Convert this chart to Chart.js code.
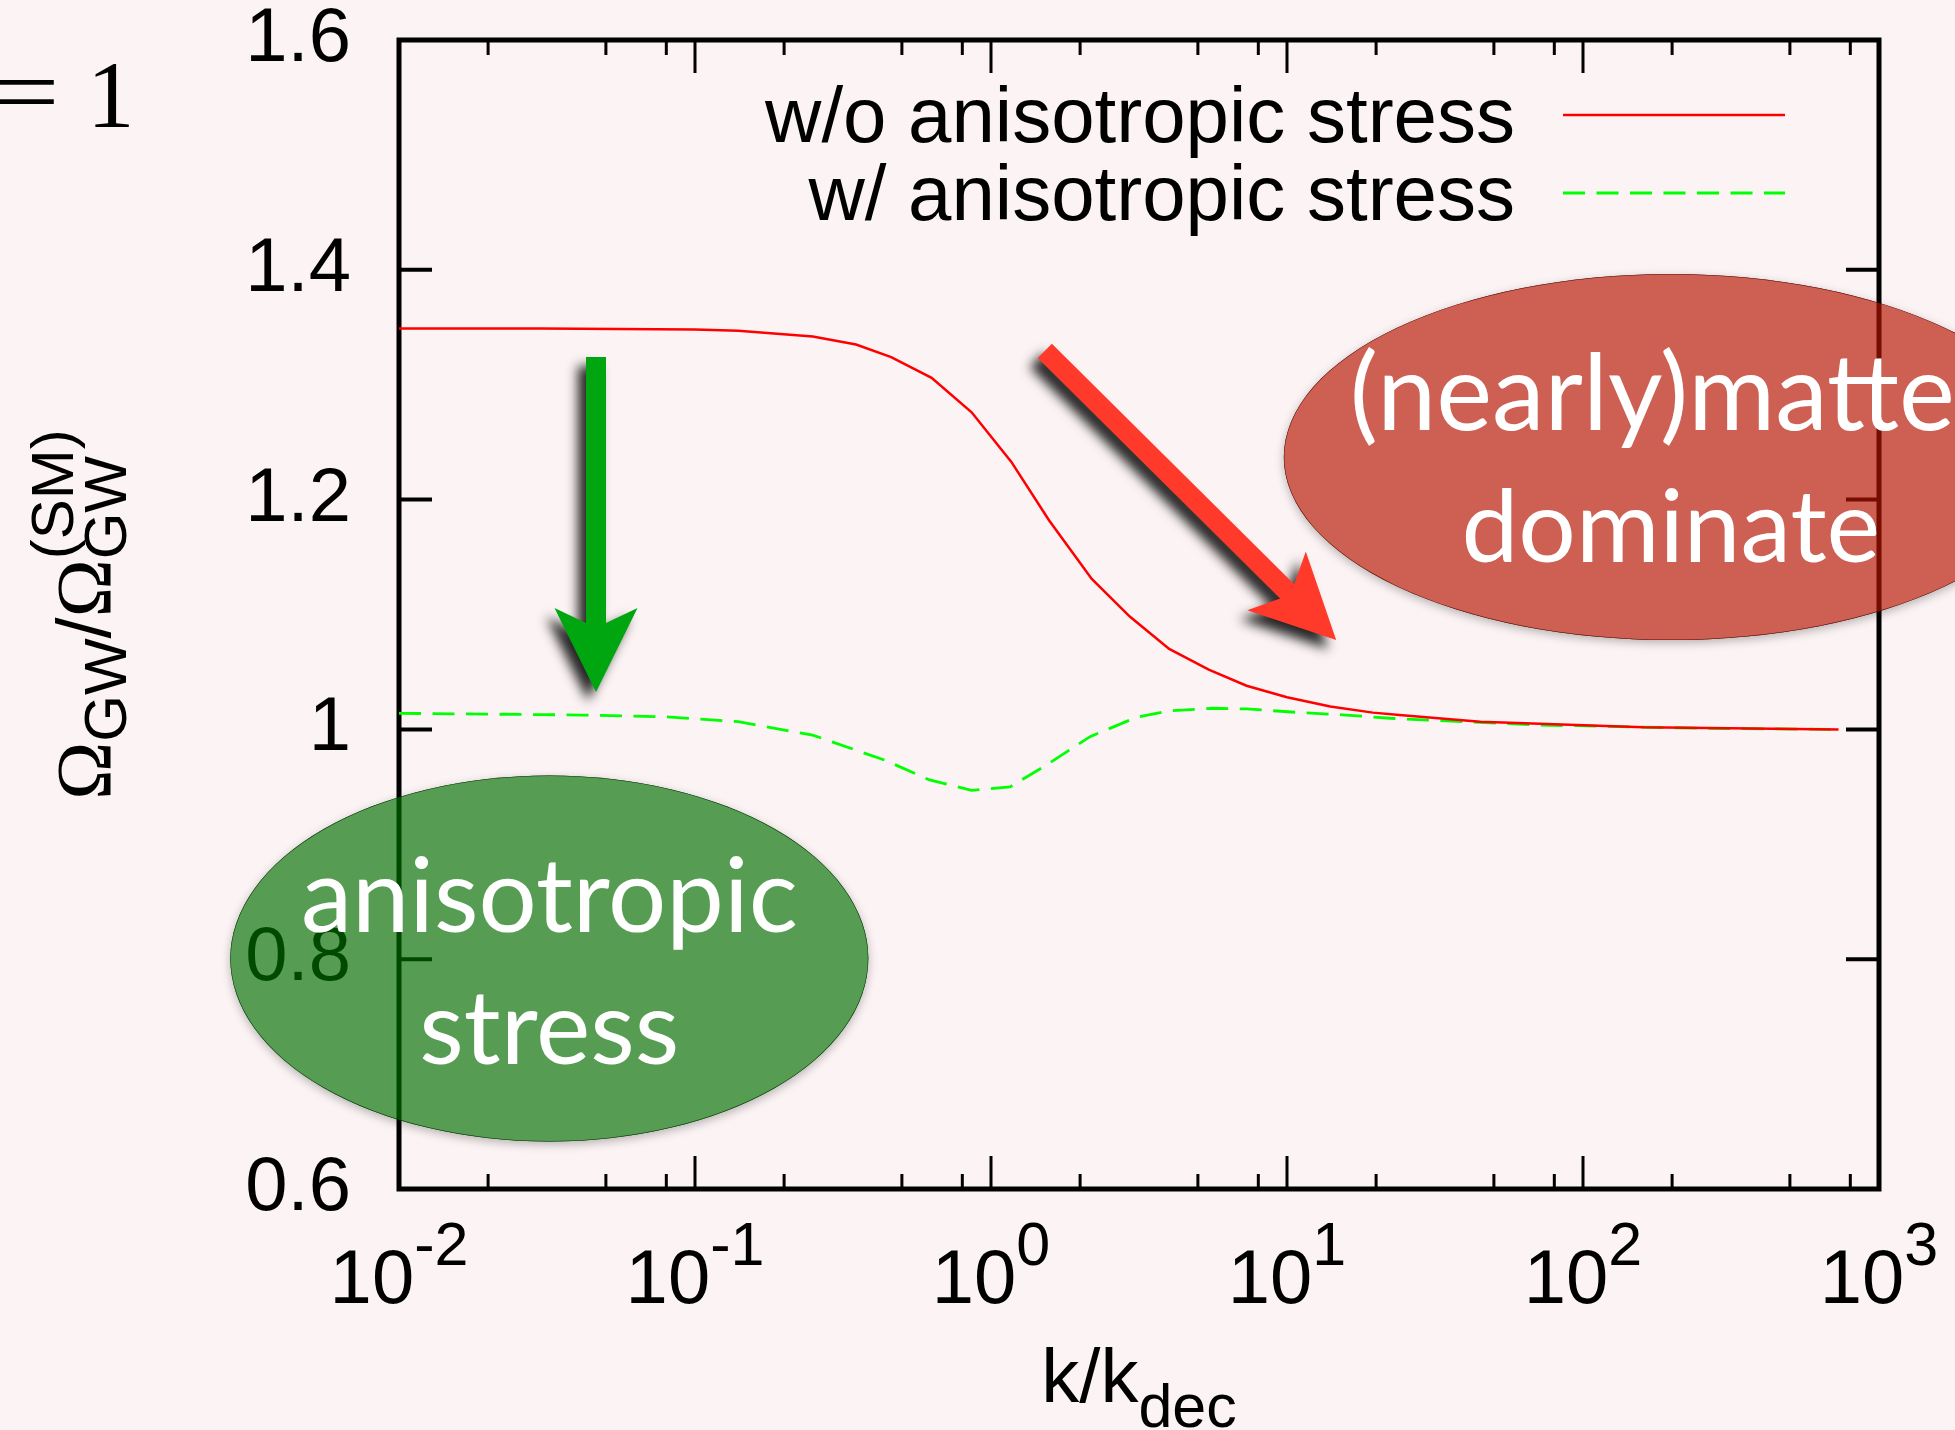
<!DOCTYPE html>
<html><head><meta charset="utf-8">
<script src="https://cdn.jsdelivr.net/npm/chart.js@4/dist/chart.umd.min.js"></script>
<style>html,body{margin:0;padding:0;background:#fcf4f4;overflow:hidden}canvas{display:block}</style>
</head><body>
<canvas id="c" width="1955" height="1430"></canvas>
<script>
// ---- data ----
const kNoStress = [0.01, 0.03, 0.1, 0.14, 0.25, 0.35, 0.46, 0.63, 0.86, 1.17, 1.57, 2.19, 2.95, 4.0, 5.44, 7.3, 10, 14, 19.5, 24, 45, 160, 730];
const ratioNoStress = [1.349, 1.349, 1.348, 1.347, 1.342, 1.335, 1.324, 1.306, 1.276, 1.233, 1.182, 1.131, 1.098, 1.070, 1.052, 1.038, 1.028, 1.020, 1.0146, 1.0125, 1.0067, 1.0018, 1.000];
const kStress = [0.01, 0.042, 0.08, 0.14, 0.25, 0.44, 0.62, 0.86, 1.16, 1.54, 2.16, 3.1, 4.03, 5.63, 7.3, 10.7, 15.8, 22.3, 69, 248, 730];
const ratioStress = [1.014, 1.0125, 1.011, 1.0067, 0.995, 0.973, 0.956, 0.947, 0.950, 0.969, 0.9937, 1.0105, 1.0163, 1.0184, 1.0178, 1.0149, 1.0125, 1.0097, 1.0039, 1.001, 1.000];
const seriesLabels = ['w/o anisotropic stress', 'w/ anisotropic stress'];
const yTickValues = [0.6, 0.8, 1.0, 1.2, 1.4, 1.6];
const xMajorExponents = [-2, -1, 0, 1, 2, 3];
const xMinorMantissas = [2, 5, 8];
const ellipseTexts = [['anisotropic', 'stress'], ['(nearly)matter', 'dominate']];
const cornerText = ['=', '1'];

// annotation anchors in data coordinates
const greenEllipseAt = {x: 0.0322, y: 0.8006};
const redEllipseAt = {x: 198, y: 1.237};
const greenArrow = {from: {x: 0.0463, y: 1.3241}, to: {x: 0.0463, y: 1.0326}};
const redArrow = {from: {x: 1.52, y: 1.3295}, to: {x: 14.66, y: 1.0778}};

const SANS = '"Liberation Sans", Arial, sans-serif';
const SERIF = '"Liberation Serif", "Times New Roman", serif';
const HUM = 'Lato, "Open Sans", sans-serif';
const BG = '#fcf4f4';

function font(sz, fam) { return sz + 'px ' + fam; }

function drawArrow(ctx, x0, y0, x1, y1, color) {
  const w = 20, hw = 83, hl = 84, notch = 15;
  const dx = x1 - x0, dy = y1 - y0, L = Math.hypot(dx, dy);
  const ux = dx / L, uy = dy / L, px = -uy, py = ux;
  const bx = x1 - ux * (hl - notch), by = y1 - uy * (hl - notch);
  const cx = x1 - ux * hl, cy = y1 - uy * hl;
  ctx.save();
  ctx.beginPath();
  ctx.moveTo(x0 + px * w / 2, y0 + py * w / 2);
  ctx.lineTo(bx + px * w / 2, by + py * w / 2);
  ctx.lineTo(cx + px * hw / 2, cy + py * hw / 2);
  ctx.lineTo(x1, y1);
  ctx.lineTo(cx - px * hw / 2, cy - py * hw / 2);
  ctx.lineTo(bx - px * w / 2, by - py * w / 2);
  ctx.lineTo(x0 - px * w / 2, y0 - py * w / 2);
  ctx.closePath();
  ctx.shadowColor = 'rgba(0,0,0,0.85)';
  ctx.shadowBlur = 12;
  ctx.shadowOffsetX = -8;
  ctx.shadowOffsetY = 9;
  ctx.fillStyle = color;
  ctx.fill();
  ctx.restore();
}

function drawEllipse(ctx, W, H, cx, cy, rx, ry, fill) {
  // soft shadow only outside the shape
  ctx.save();
  ctx.beginPath();
  ctx.rect(0, 0, W, H);
  ctx.ellipse(cx, cy, rx - 0.5, ry - 0.5, 0, 0, Math.PI * 2);
  ctx.clip('evenodd');
  ctx.beginPath();
  ctx.ellipse(cx, cy, rx, ry, 0, 0, Math.PI * 2);
  ctx.shadowColor = 'rgba(0,0,0,0.28)';
  ctx.shadowBlur = 10;
  ctx.shadowOffsetY = 3;
  ctx.fillStyle = '#000';
  ctx.fill();
  ctx.restore();
  ctx.save();
  ctx.beginPath();
  ctx.ellipse(cx, cy, rx, ry, 0, 0, Math.PI * 2);
  ctx.fillStyle = fill;
  ctx.fill();
  ctx.restore();
}

function fitSize(ctx, text, width) {
  ctx.font = font(100, HUM);
  return 100 * width / ctx.measureText(text).width;
}

const bgPlugin = {
  id: 'bg',
  beforeDraw(chart) {
    const ctx = chart.ctx;
    ctx.save();
    ctx.fillStyle = BG;
    ctx.fillRect(0, 0, chart.width, chart.height);
    ctx.restore();
  }
};

const framePlugin = {
  id: 'frame',
  beforeDatasetsDraw(chart) {
    const ctx = chart.ctx, a = chart.chartArea;
    const xs = chart.scales.x, ys = chart.scales.y;
    ctx.save();
    ctx.strokeStyle = '#000';
    ctx.lineCap = 'butt';
    ctx.lineWidth = 3;
    xMajorExponents.forEach((e, i) => {
      const px = xs.getPixelForValue(Math.pow(10, e));
      ctx.beginPath();
      ctx.moveTo(px, a.bottom); ctx.lineTo(px, a.bottom - 33);
      ctx.moveTo(px, a.top); ctx.lineTo(px, a.top + 33);
      ctx.stroke();
      if (i < xMajorExponents.length - 1) {
        xMinorMantissas.forEach(m => {
          const q = xs.getPixelForValue(m * Math.pow(10, e));
          ctx.beginPath();
          ctx.moveTo(q, a.bottom); ctx.lineTo(q, a.bottom - 15);
          ctx.moveTo(q, a.top); ctx.lineTo(q, a.top + 15);
          ctx.stroke();
        });
      }
    });
    ctx.lineWidth = 4;
    yTickValues.forEach(v => {
      const py = ys.getPixelForValue(v);
      ctx.beginPath();
      ctx.moveTo(a.left, py); ctx.lineTo(a.left + 33, py);
      ctx.moveTo(a.right, py); ctx.lineTo(a.right - 33, py);
      ctx.stroke();
    });
    ctx.lineWidth = 5;
    ctx.strokeRect(a.left, a.top, a.right - a.left, a.bottom - a.top);

    // x tick labels 10^n
    ctx.fillStyle = '#000';
    ctx.textBaseline = 'alphabetic';
    ctx.textAlign = 'left';
    xMajorExponents.forEach(e => {
      const px = xs.getPixelForValue(Math.pow(10, e));
      const sup = (e < 0 ? '-' + (-e) : String(e));
      ctx.font = font(76, SANS);
      const w1 = ctx.measureText('10').width;
      ctx.font = font(61, SANS);
      const w2 = ctx.measureText(sup).width;
      const x0 = px - (w1 + w2) / 2;
      ctx.font = font(76, SANS);
      ctx.fillText('10', x0, a.bottom + 114);
      ctx.font = font(61, SANS);
      ctx.fillText(sup, x0 + w1, a.bottom + 76);
    });
    // x title  k/k_dec
    {
      ctx.font = font(76, SANS);
      const w1 = ctx.measureText('k/k').width;
      ctx.font = font(61, SANS);
      const w2 = ctx.measureText('dec').width;
      const cx = (a.left + a.right) / 2;
      const x0 = cx - (w1 + w2) / 2;
      ctx.font = font(76, SANS);
      ctx.fillText('k/k', x0, a.bottom + 213);
      ctx.font = font(61, SANS);
      ctx.fillText('dec', x0 + w1, a.bottom + 238);
    }
    // y title  Ω_GW / Ω_GW^(SM)
    {
      const cy = (a.top + a.bottom) / 2;
      ctx.save();
      ctx.translate(110, cy);
      ctx.rotate(-Math.PI / 2);
      ctx.font = font(78, SERIF);
      const wO = ctx.measureText('\u03A9').width;
      ctx.font = font(60, SANS);
      const wGW = ctx.measureText('GW').width;
      const wSM = ctx.measureText('(SM)').width;
      ctx.font = font(76, SANS);
      const wS = ctx.measureText('/').width;
      const total = wO + wGW + wS + wO + Math.max(wGW, wSM);
      let x = -total / 2;
      ctx.font = font(78, SERIF); ctx.fillText('\u03A9', x, 0); x += wO;
      ctx.font = font(60, SANS); ctx.fillText('GW', x, 16); x += wGW;
      ctx.font = font(76, SANS); ctx.fillText('/', x, 0); x += wS;
      ctx.font = font(78, SERIF); ctx.fillText('\u03A9', x, 0); x += wO;
      ctx.font = font(60, SANS); ctx.fillText('GW', x, 16); ctx.fillText('(SM)', x, -37);
      ctx.restore();
    }
    ctx.restore();
  },
  afterDatasetsDraw(chart) {
    const ctx = chart.ctx;
    ctx.save();
    ctx.font = font(78, SANS);
    ctx.fillStyle = '#000';
    ctx.textAlign = 'right';
    ctx.textBaseline = 'alphabetic';
    const lineRows = [115, 193];
    const textRows = [142, 220];
    chart.data.datasets.forEach((ds, i) => {
      ctx.fillText(ds.label, 1515, textRows[i]);
      ctx.save();
      ctx.strokeStyle = ds.borderColor;
      ctx.lineWidth = ds.borderWidth;
      ctx.setLineDash(ds.borderDash || []);
      ctx.beginPath();
      ctx.moveTo(1563, lineRows[i]); ctx.lineTo(1785, lineRows[i]);
      ctx.stroke();
      ctx.restore();
    });
    ctx.restore();
  },
  afterDraw(chart) {
    const ctx = chart.ctx;
    const W = chart.width, H = chart.height;
    const xs = chart.scales.x, ys = chart.scales.y;
    const P = p => [xs.getPixelForValue(p.x), ys.getPixelForValue(p.y)];
    let f = P(greenArrow.from), t = P(greenArrow.to);
    drawArrow(ctx, f[0], f[1], t[0], t[1], '#00a60f');
    f = P(redArrow.from); t = P(redArrow.to);
    drawArrow(ctx, f[0], f[1], t[0], t[1], '#ff3a2a');

    // green blob
    let c = P(greenEllipseAt);
    drawEllipse(ctx, W, H, c[0], c[1], 319, 183, 'rgba(0,113,0,0.66)');
    ctx.save();
    ctx.fillStyle = '#fff';
    ctx.textBaseline = 'alphabetic';
    ctx.textAlign = 'center';
    let sz = fitSize(ctx, ellipseTexts[0][0], 497);
    ctx.font = font(sz.toFixed(1), HUM);
    ctx.fillText(ellipseTexts[0][0], c[0], c[1] - 27);
    ctx.fillText(ellipseTexts[0][1], c[0], c[1] + 105);
    ctx.restore();

    // red blob
    c = P(redEllipseAt);
    drawEllipse(ctx, W, H, c[0], c[1], 387, 183, 'rgba(181,18,0,0.66)');
    ctx.save();
    ctx.fillStyle = '#fff';
    ctx.textBaseline = 'alphabetic';
    const line1 = ellipseTexts[1][0];
    sz = fitSize(ctx, line1.slice(0, -1), 605);
    ctx.font = font(sz.toFixed(1), HUM);
    ctx.textAlign = 'left';
    ctx.fillText(line1, c[0] - 321, c[1] - 27);
    sz = fitSize(ctx, ellipseTexts[1][1], 419);
    ctx.font = font(sz.toFixed(1), HUM);
    ctx.textAlign = 'center';
    ctx.fillText(ellipseTexts[1][1], c[0], c[1] + 105);
    ctx.restore();

    // corner text "= 1"
    ctx.save();
    ctx.fillStyle = '#000';
    ctx.font = font(95, SERIF);
    ctx.textBaseline = 'alphabetic';
    ctx.save();
    ctx.translate(60, 0);
    ctx.scale(1.35, 1);
    ctx.textAlign = 'right';
    ctx.fillText(cornerText[0], 0, 124);
    ctx.restore();
    ctx.textAlign = 'left';
    ctx.fillText(cornerText[1], 87, 127);
    ctx.restore();
  }
};

new Chart(document.getElementById('c'), {
  type: 'line',
  data: {
    datasets: [
      {label: seriesLabels[0], data: kNoStress.map((k, i) => ({x: k, y: ratioNoStress[i]})),
       borderColor: '#ff0000', borderWidth: 2.5, pointRadius: 0, tension: 0, fill: false},
      {label: seriesLabels[1], data: kStress.map((k, i) => ({x: k, y: ratioStress[i]})),
       borderColor: '#00ff00', borderWidth: 2.8, borderDash: [22, 11.5], pointRadius: 0, tension: 0, fill: false}
    ]
  },
  options: {
    responsive: false,
    devicePixelRatio: 1,
    animation: false,
    layout: {padding: {top: 40, right: 76, bottom: 0, left: 0}},
    plugins: {legend: {display: false}, tooltip: {enabled: false}, title: {display: false}},
    scales: {
      x: {
        type: 'logarithmic', min: 0.01, max: 1000, position: 'bottom',
        grid: {display: false, drawTicks: false}, border: {display: false},
        ticks: {display: false},
        afterFit(s) { s.height = 241; s.paddingLeft = 0; s.paddingRight = 0; }
      },
      y: {
        type: 'linear', min: 0.6, max: 1.6, position: 'left',
        grid: {display: false, drawTicks: false}, border: {display: false},
        afterBuildTicks(s) { s.ticks = yTickValues.map(v => ({value: v})); },
        ticks: {
          autoSkip: false, color: '#000', padding: 48,
          font: {family: SANS, size: 76},
          callback: v => Math.abs(v - 1) < 1e-9 ? '1' : Number(v).toFixed(1)
        },
        afterFit(s) { s.width = 399; s.paddingTop = 0; s.paddingBottom = 0; }
      }
    }
  },
  plugins: [bgPlugin, framePlugin]
});
</script>
</body></html>
